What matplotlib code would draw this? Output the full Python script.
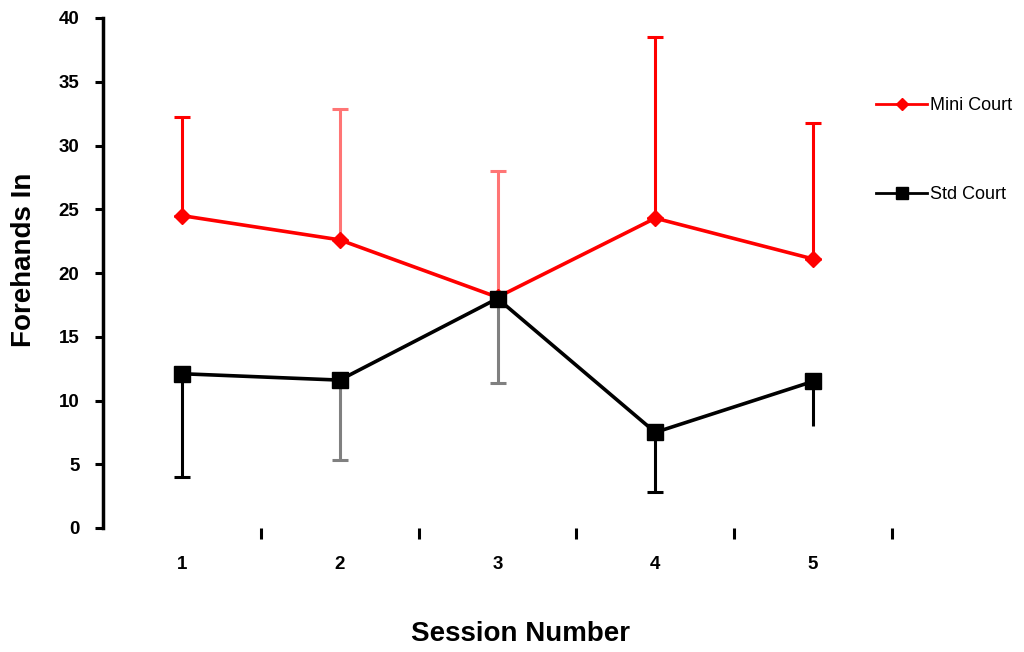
import numpy as np
import matplotlib
matplotlib.use('Agg')
import matplotlib.pyplot as plt
from matplotlib.lines import Line2D

plt.rcParams['font.family'] = ['Liberation Sans', 'DejaVu Sans']

# -- Data: forehands in, by session --
sessions = [1, 2, 3, 4, 5]
mini_mean = [24.5, 22.6, 18.1, 24.3, 21.1]
mini_err_up = [7.7, 10.3, 9.9, 14.2, 10.7]
std_mean = [12.1, 11.6, 18.0, 7.5, 11.5]
std_err_down = [8.1, 6.3, 6.6, 4.7, 3.5]

# error bar shades per session
mini_ecol = ['#ff0000', '#ff7575', '#ff7575', '#ff0000', '#ff0000']
std_ecol = ['#000000', '#808080', '#808080', '#000000', '#000000']
std_caps = [6, 6, 6, 6, 0]

RED = '#ff0000'

fig = plt.figure(figsize=(10.24, 6.52), dpi=100)
ax = fig.add_axes([103 / 1024, 1 - 528 / 652, (892 - 103) / 1024, (528 - 18) / 652])

# error bars (one-sided)
for x, m, e, c in zip(sessions, mini_mean, mini_err_up, mini_ecol):
    ax.errorbar([x], [m], yerr=[[0], [e]], fmt='none', ecolor=c,
                elinewidth=2.2, capsize=6, capthick=2.2, zorder=2)
for x, m, e, c, cs in zip(sessions, std_mean, std_err_down, std_ecol, std_caps):
    ax.errorbar([x], [m], yerr=[[e], [0]], fmt='none', ecolor=c,
                elinewidth=2.2, capsize=cs, capthick=2.2, zorder=2)

ax.plot(sessions, mini_mean, color=RED, lw=2.6, marker='D', ms=8,
        mec=RED, mfc=RED, zorder=3)
ax.plot(sessions, std_mean, color='black', lw=2.6, marker='s', ms=11,
        mec='black', mfc='black', zorder=4)

ax.set_xlim(0.5, 5.5)
ax.set_ylim(0, 40)
ax.set_yticks(np.arange(0, 41, 5))
ax.set_xticks(sessions)
ax.set_xticks([1.5, 2.5, 3.5, 4.5, 5.5], minor=True)

for side in ['top', 'right', 'bottom']:
    ax.spines[side].set_visible(False)
ax.spines['left'].set_linewidth(2.5)

ax.tick_params(axis='y', direction='out', length=6, width=2.2, pad=11,
               labelsize=13.5)
ax.tick_params(axis='x', which='major', length=0, pad=20, labelsize=13.5)
ax.tick_params(axis='x', which='minor', direction='out', length=8, width=2.2)
for lbl in ax.get_xticklabels() + ax.get_yticklabels():
    lbl.set_fontweight('bold')

ax.set_xlabel('Session Number', fontsize=20, fontweight='bold')
ax.xaxis.set_label_coords(0.529, -0.183)
ax.set_ylabel('Forehands In', fontsize=20, fontweight='bold')
ax.yaxis.set_label_coords(-0.084, 0.525)

# legend, placed to the right of the plot area
handles = [
    Line2D([], [], color=RED, lw=2, marker='D', ms=6, mfc=RED, mec=RED),
    Line2D([], [], color='black', lw=2, marker='s', ms=8, mfc='black', mec='black'),
]
fig.legend(handles, ['Mini Court', 'Std Court'], loc='upper left',
           bbox_to_anchor=(860 / 1024, 1 - 81 / 652), frameon=False,
           fontsize=13, labelspacing=4.0, handlelength=2.8, handletextpad=0.2)

fig.savefig('out.png', dpi=100, facecolor='white')
